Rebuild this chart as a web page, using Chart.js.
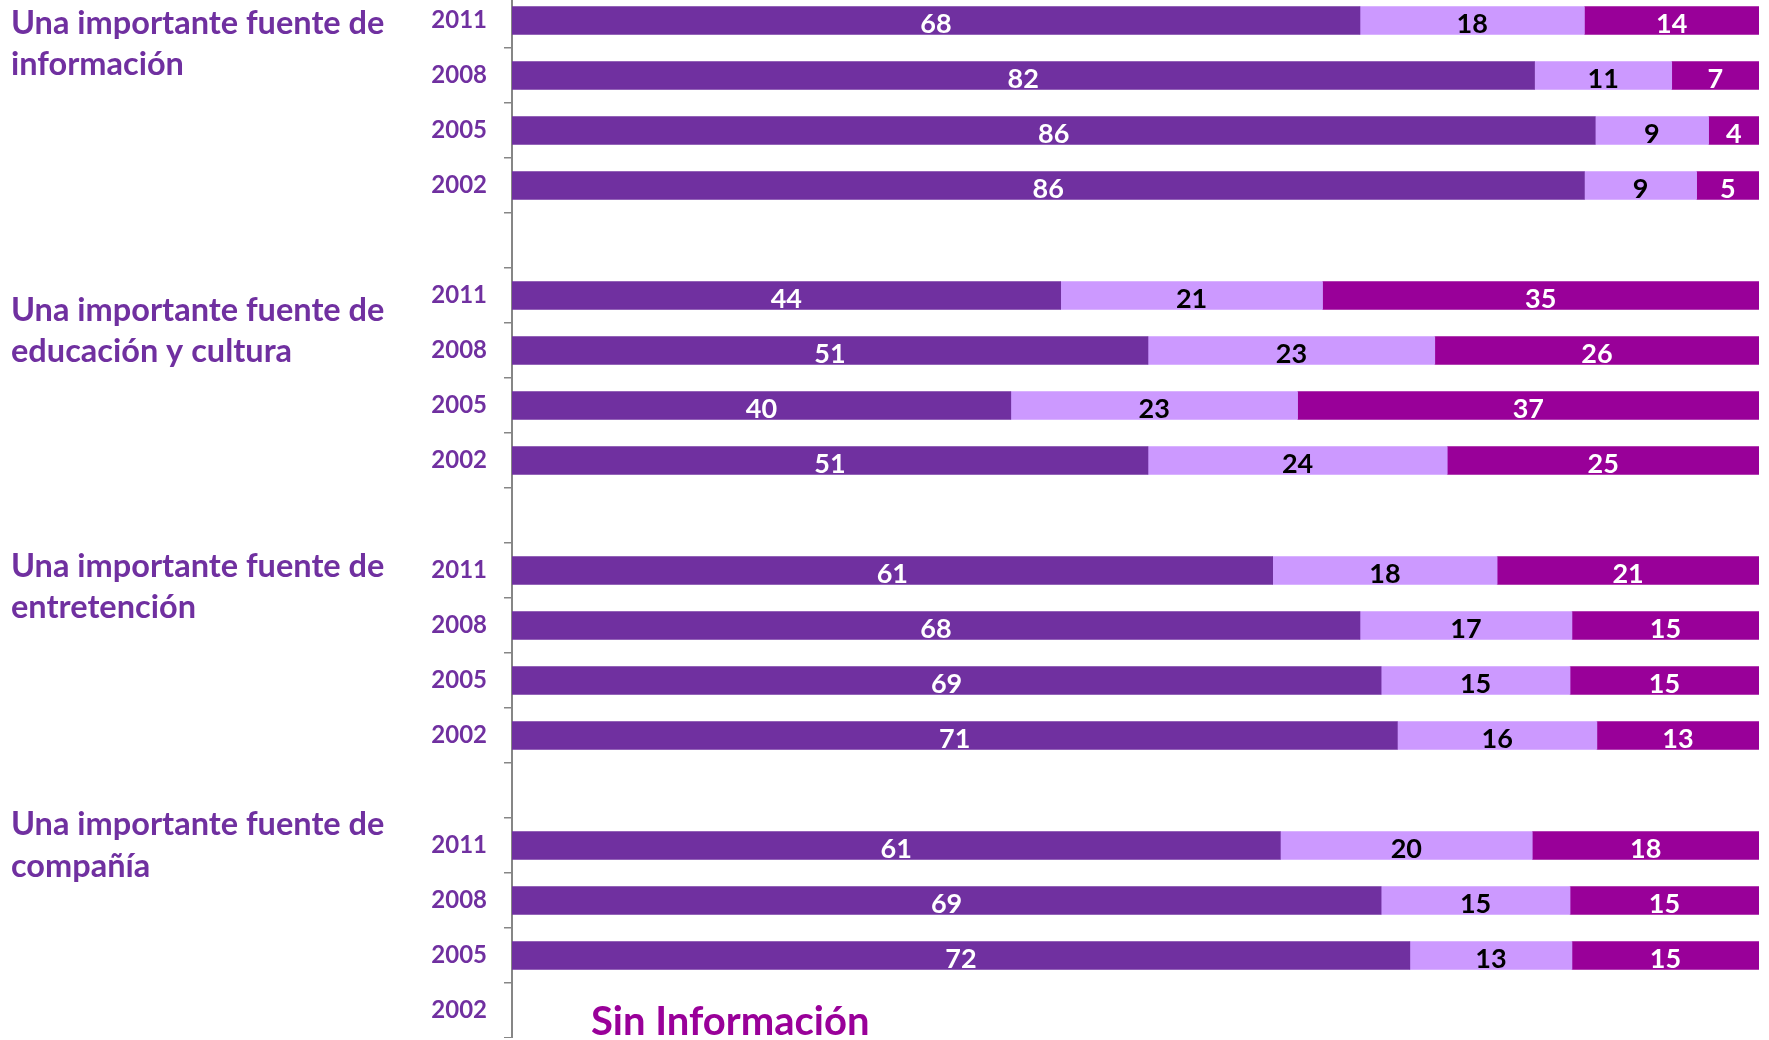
<!DOCTYPE html>
<html lang="es">
<head>
<meta charset="utf-8">
<title>Fuentes importantes</title>
<script src="https://cdn.jsdelivr.net/npm/chart.js@4"></script>
<style>
    html, body { margin: 0; padding: 0; background: #fff; overflow: hidden; }
    body { width: 1769px; height: 1040px; position: relative; }
    #grafico { position: absolute; left: 0; top: -7px; }
</style>
</head>
<body>
<canvas id="grafico" width="1769" height="1045"></canvas>
<script>
// filas del eje (una fila vacia separa cada bloque)
const anios = ['2011', '2008', '2005', '2002', '',
               '2011', '2008', '2005', '2002', '',
               '2011', '2008', '2005', '2002', '',
               '2011', '2008', '2005', '2002'];

// valores de cada tramo, tal como aparecen en las etiquetas
const serie1 = [68, 82, 86, 86, null, 44, 51, 40, 51, null, 61, 68, 69, 71, null, 61, 69, 72, null];
const serie2 = [18, 11, 9, 9, null, 21, 23, 23, 24, null, 18, 17, 15, 16, null, 20, 15, 13, null];
const serie3 = [14, 7, 4, 5, null, 35, 26, 37, 25, null, 21, 15, 15, 13, null, 18, 15, 15, null];

const titulos = [
    ['Una importante fuente de', 'información'],
    ['Una importante fuente de', 'educación y cultura'],
    ['Una importante fuente de', 'entretención'],
    ['Una importante fuente de', 'compañía']
];
const notaSinDatos = 'Sin Información';

// colores
const colorMorado = '#7030A0';
const colorLila = '#CC99FF';
const colorMagenta = '#990099';

const fuente = 'Lato, "Open Sans", sans-serif';

// cada barra se lleva al 100% (barras apiladas normalizadas)
const crudos = [serie1, serie2, serie3];
const totales = anios.map((_, i) => crudos.reduce((s, serie) => s + (serie[i] || 0), 0));
const normalizar = serie => serie.map((v, i) => v == null ? null : v / totales[i] * 100);

const etiquetasValores = {
    id: 'etiquetasValores',
    afterDatasetsDraw(chart) {
        const ctx = chart.ctx;
        const coloresTexto = ['#ffffff', '#000000', '#ffffff'];
        ctx.save();
        ctx.font = 'bold 27px ' + fuente;
        ctx.textAlign = 'center';
        ctx.textBaseline = 'alphabetic';
        chart.data.datasets.forEach((ds, d) => {
            const meta = chart.getDatasetMeta(d);
            meta.data.forEach((barra, i) => {
                const valor = crudos[d][i];
                if (valor == null) return;
                ctx.fillStyle = coloresTexto[d];
                ctx.fillText(String(valor), (barra.x + barra.base) / 2, barra.y + 12);
            });
        });
        ctx.restore();
    }
};

const textosLaterales = {
    id: 'textosLaterales',
    afterDraw(chart) {
        const ctx = chart.ctx;
        // lineas base en la pagina (+7 por el desplazamiento del canvas)
        const lineasBase = [[34, 75], [321, 362], [577, 618], [835, 877]];
        ctx.save();
        ctx.textAlign = 'left';
        ctx.textBaseline = 'alphabetic';
        ctx.fillStyle = colorMorado;
        ctx.font = 'bold 32.5px ' + fuente;
        titulos.forEach((lineas, g) => {
            lineas.forEach((texto, l) => ctx.fillText(texto, 11, lineasBase[g][l] + 7));
        });
        ctx.fillStyle = colorMagenta;
        ctx.font = 'bold 40px ' + fuente;
        ctx.fillText(notaSinDatos, 591, 1042);
        ctx.restore();
    }
};

const chart = new Chart(document.getElementById('grafico'), {
    type: 'bar',
    data: {
        labels: anios,
        datasets: [
            { label: 'Serie 1', data: normalizar(serie1), backgroundColor: colorMorado },
            { label: 'Serie 2', data: normalizar(serie2), backgroundColor: colorLila },
            { label: 'Serie 3', data: normalizar(serie3), backgroundColor: colorMagenta }
        ]
    },
    options: {
        indexAxis: 'y',
        responsive: false,
        animation: false,
        devicePixelRatio: 1,
        datasets: {
            bar: { barThickness: 28, borderWidth: 0 }
        },
        layout: { padding: { top: 0, right: 10, bottom: 0, left: 0 } },
        plugins: {
            legend: { display: false },
            tooltip: { enabled: false }
        },
        scales: {
            x: {
                stacked: true,
                min: 0,
                max: 100,
                display: false
            },
            y: {
                stacked: true,
                afterFit(scale) {
                    scale.width = 512;
                    scale.paddingTop = 0;
                    scale.paddingBottom = 0;
                },
                border: { display: true, color: '#868686', width: 2 },
                grid: {
                    display: true,
                    offset: true,
                    drawOnChartArea: false,
                    drawTicks: true,
                    tickLength: 8,
                    color: '#868686',
                    lineWidth: 1.5
                },
                ticks: {
                    color: colorMorado,
                    padding: 17,
                    autoSkip: false,
                    font: { family: fuente, size: 24, weight: 'bold' }
                }
            }
        }
    },
    plugins: [etiquetasValores, textosLaterales]
});
</script>
</body>
</html>
